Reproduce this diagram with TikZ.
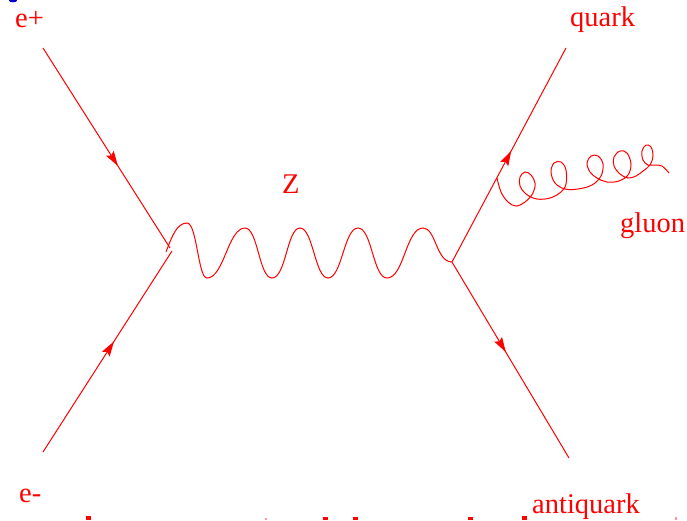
\documentclass[tikz,border=0pt]{standalone}
\usepackage{fontspec}
\setmainfont{Liberation Serif}
\usetikzlibrary{arrows.meta,decorations.markings}
\tikzset{
  fermion/.style={draw=red, line width=1pt, postaction={decorate},
    decoration={markings, mark=at position #1 with {\arrow{Stealth[length=15pt,width=9pt,inset=2.5pt]}}}},
  boson/.style={draw=red, line width=1pt},
  lbl/.style={anchor=base west, inner sep=0pt, text=red, font=\fontsize{28.5}{30}\selectfont},
  chip/.style={fill=red, draw=none}
}
\begin{document}
\begin{tikzpicture}[x=1pt,y=-1pt]
\useasboundingbox (0,0) rectangle (687,520);
% coordinates
\coordinate (ep) at (43,48);
\coordinate (em) at (43,452);
\coordinate (va) at (170,248);
\coordinate (vb) at (172,251);
\coordinate (vr) at (452,262);
\coordinate (q) at (566,48);
\coordinate (aq) at (569,458);
% fermions
\draw[fermion=0.59] (ep) -- (va);
\draw[fermion=0.55] (em) -- (vb);
\draw[fermion=0.52] (vr) -- (q);
\draw[fermion=0.46] (vr) -- (aq);
% photon
\draw[boson] (166,252) .. controls (172,236) and (177,223) .. (187,223)
  .. controls (197,223) and (198,278) .. (207,278)
  .. controls (224,278) and (228,228) .. (245,228)
  .. controls (258,228) and (259,278) .. (272,278)
  .. controls (286,278) and (287,228) .. (300,228)
  .. controls (313,228) and (315,278) .. (328,278)
  .. controls (342,278) and (344,228) .. (358,228)
  .. controls (372,228) and (373,278) .. (387,278)
  .. controls (404,278) and (406,228) .. (423,228)
  .. controls (436,228) and (436,262) .. (vr);
% gluon
\draw[boson] plot[smooth, tension=0.6] coordinates {
  (497,178) (501,192) (508,202) (516,206) (525,202) (533,193) (535,183)
  (531,175) (525,172) (520,177) (520,186) (526,194) (537,199) (550,198)
  (561,192) (566,184) (566,170) (561,162) (554,163) (551,172) (555,183)
  (565,189) (578,189) (592,185) (601,176) (603,164) (598,156) (591,156)
  (587,163) (590,172) (597,178) (607,182) (619,181) (628,175) (631,164)
  (627,153) (620,151) (614,157) (614,166) (620,174) (628,178) (636,176)
  (643,171) (650,165) (653,156) (651,147) (646,145) (642,151) (643,160)
  (648,165) (655,165) (662,166) (669,173)};
% labels
\node[lbl] (lep) at (15,27) {e+};
\node[lbl] (lq) at (570,26) {quark};
\node[lbl] (lz) at (282,193) {Z};
\node[lbl] (lg) at (620,232) {gluon};
\node[lbl] (lem) at (19,502) {e-};
\node[lbl] (laq) at (532,513) {antiquark};
% fragments at edges
\fill[blue!80!black] (13,0.5) ellipse (4pt and 1.8pt);
\fill[chip] (86,515.5) rectangle (91,520);
\fill[chip] (322.5,516.5) rectangle (327.5,520);
\fill[chip] (353,516.5) rectangle (358,520);
\fill[chip] (468,516.5) rectangle (473,520);
\fill[chip] (522,515.5) rectangle (527,520);
\fill[red!40] (265,518) rectangle (267,520);
\fill[red!40] (675,517) rectangle (677,520);
\end{tikzpicture}
\end{document}
